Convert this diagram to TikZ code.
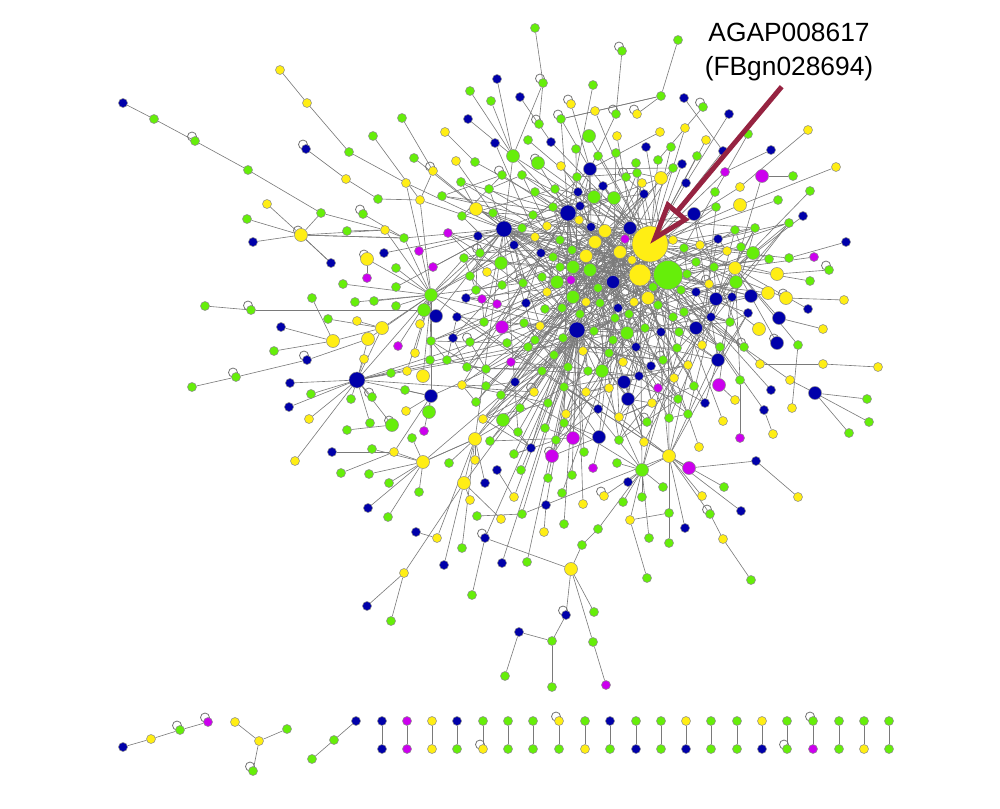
\documentclass[tikz,border=0pt]{standalone}
\usepackage{fontspec}
\setmainfont{Liberation Sans}
\usepackage{tikz}
\usetikzlibrary{arrows.meta, calc}

\definecolor{ngreen}{RGB}{102,238,10}
\definecolor{nyellow}{RGB}{255,238,20}
\definecolor{nblue}{RGB}{0,0,170}
\definecolor{nmag}{RGB}{204,0,238}
\definecolor{arrowred}{RGB}{150,35,65}

\pgfdeclarelayer{bg}
\pgfsetlayers{bg,main}

\tikzset{
  nd/.style={circle, draw=black!45, line width=0.3pt, inner sep=0pt},
  gs/.style={nd, fill=ngreen, minimum size=0.18cm},
  gm/.style={nd, fill=ngreen, minimum size=0.26cm},
  gh/.style={nd, fill=ngreen, minimum size=0.58cm},
  ys/.style={nd, fill=nyellow, minimum size=0.18cm},
  ym/.style={nd, fill=nyellow, minimum size=0.26cm},
  yb/.style={nd, fill=nyellow, minimum size=0.44cm},
  yh/.style={nd, fill=nyellow, minimum size=0.72cm},
  bs/.style={nd, fill=nblue, minimum size=0.18cm},
  bm/.style={nd, fill=nblue, minimum size=0.26cm},
  bb/.style={nd, fill=nblue, minimum size=0.32cm},
  ms/.style={nd, fill=nmag, minimum size=0.18cm},
  mm/.style={nd, fill=nmag, minimum size=0.26cm},
  link/.style={draw=black!52, line width=0.35pt},
  selfloop/.style={draw=black!55, line width=0.45pt},
  callout/.style={font=\fontsize{15pt}{19pt}\selectfont, inner sep=0pt, anchor=base}
}

% big nodes of the main component
\def\hublist{h1/650/244/yh/h2, h2/668/275/gh/h3, h3/640/275/yb/h1, h4/568/213/bb/h1,
  h5/504/229/bb/h4, h6/630/228/bm/h1, h7/605/231/ym/h1, h8/577/330/bb/h3,
  h9/586/256/ym/h1, h10/590/270/gm/h1, h11/620/252/ym/h2, h12/613/282/bm/h1,
  h13/669/456/ym/h2, h14/735/268/ym/h1, h15/357/380/bb/h16, h16/431/295/gm/h5,
  h17/590/169/bm/h1, h18/475/439/ym/h8, h19/642/470/gm/h3, h20/648/298/ym/h2,
  h21/627/333/gm/h1, h22/571/569/ym/p95, h23/301/235/ym/m3, h24/423/462/ym/h18,
  h25/431/396/bm/h16, h26/382/328/ym/h16}

% outer nodes with the node they hang from
\def\outlist{m1/406/183/ys/h5, m2/420/200/ys/h5, m3/404/238/gs/h5, m4/385/230/ys/m3,
  m5/333/341/ym/h26, m6/424/310/gm/h5, m7/368/339/ym/h16, m8/394/452/ys/h25,
  m9/392/425/gm/h15, m10/437/538/ys/h18, m11/464/483/ym/h18, m12/522/514/gs/h8,
  m20/740/380/gs/h14,
  p1/123/103/bs/p2, p2/154/119/gs/p3, p3/195/141/gs/p4, p4/248/170/gs/p5,
  p5/321/213/gs/h23, p6/280/70/ys/p7, p7/307/103/ys/p8, p8/349/152/gs/m1,
  p9/306/149/bs/p10, p10/346/179/ys/p11, p11/378/199/gs/m2, p12/373/136/gs/m2,
  p13/267/204/ys/h23, p14/247/219/gs/h23, p15/253/242/bs/h23, p16/363/214/gs/m3,
  p17/347/231/gs/m4, p18/331/263/bs/h23, p19/384/253/bs/h5, p20/367/259/ym/h16,
  p21/367/278/ms/p20, p22/343/284/gs/h16, p23/396/287/gs/h5, p24/312/298/gs/m5,
  p25/205/306/gs/p26, p26/251/310/gs/m6, p27/355/302/gs/h16, p28/374/301/gs/h16,
  p29/396/306/gs/h16, p30/328/319/gs/h26, p31/357/321/ys/h26, p32/281/327/bs/m5,
  p33/274/351/gs/m5, p34/307/360/bs/m7, p35/364/359/ys/h15, p36/236/377/gs/p34,
  p37/192/387/gs/p36, p38/290/383/bs/h15, p39/311/394/gs/h15, p40/289/407/bs/h15,
  p41/309/419/ys/h15, p42/295/461/ys/h15, p43/332/452/bs/m8, p44/341/473/gs/m8,
  p45/347/430/gs/m9, p46/370/423/gs/h15, p47/372/449/gs/h24, p48/369/474/gs/h24,
  p49/389/483/gs/h24, p50/419/492/gs/h24, p51/368/508/bs/h24, p52/388/517/gs/h24,
  p53/416/532/bs/m10, p54/404/573/ys/m11, p55/367/606/bs/p54, p56/391/621/gs/p54,
  p57/351/399/gs/h15, p58/372/397/gs/h15, p59/391/373/gs/h15, p60/407/371/ys/h16,
  p61/423/376/ym/h16, p62/405/390/gs/h25, p63/406/411/ys/h25, p64/429/412/gm/h25,
  p65/424/431/ms/h25, p66/412/438/gs/h24, p67/420/324/ys/h16, p68/398/346/ms/h16,
  p69/415/353/ys/h16, p70/430/360/gs/h16, p71/436/316/bm/h5, p72/419/251/ms/h5,
  p73/433/267/ms/h5, p74/396/268/gs/h16,
  p80/449/463/gs/h18, p81/475/460/ys/h18, p82/470/500/ys/m11, p83/477/516/gs/m12,
  p84/501/519/ys/m11, p85/485/483/bs/h18, p86/497/470/bs/p88, p87/521/470/gs/h8,
  p88/514/497/ys/h8, p89/548/478/gs/h8, p90/572/475/gs/h8, p91/546/505/bs/h8,
  p92/562/493/gs/h3, p93/564/524/gs/h8, p94/544/532/ys/p91, p95/485/538/bs/h8,
  p96/462/548/gs/h18, p97/444/565/bs/m11, p98/502/563/bs/h8, p99/527/562/gs/h8,
  p100/472/595/gs/p95, p101/582/545/gs/p102, p102/598/529/gs/h19, p103/604/496/ys/h19,
  p104/583/504/ys/h8, p105/593/468/ms/h3, p106/584/452/gs/h8, p107/566/615/bs/h22,
  p108/594/612/gs/h22, p109/552/641/gs/p107, p110/519/632/bs/p109, p111/505/676/gs/p110,
  p112/552/687/gs/p109, p113/593/642/gs/h22, p114/606/685/ms/p113, p115/628/482/bs/h19,
  p116/623/502/gs/h19, p117/630/520/ys/h19, p118/647/578/gs/p117, p119/669/513/gs/p117,
  p120/642/497/gs/h19, p121/663/487/gs/h19, p122/649/538/gs/h19, p123/669/543/gs/h13,
  p124/685/528/bs/h13, p125/702/496/ys/h13, p126/710/514/gs/h13, p127/723/539/ys/p126,
  p128/751/580/gs/p127, p129/741/511/bs/h13, p130/689/468/mm/h13, p131/756/461/bs/p130,
  p132/798/497/ys/p131, p133/724/487/gs/h13, p134/617/463/gs/h19,
  p140/740/438/ms/m20, p141/773/434/ys/p142, p142/764/410/bs/h2, p143/792/408/ys/p144,
  p144/798/345/gs/h14, p145/815/393/bm/p146, p146/790/380/ys/h3, p147/867/399/gs/p145,
  p148/869/422/gs/p145, p149/849/433/gs/p145, p150/878/367/ys/p151, p151/823/364/ys/p152,
  p152/760/364/ys/h2, p153/823/329/ys/p154, p154/779/318/bm/h14, p155/844/300/ys/p156,
  p156/786/298/ym/h1, p157/808/309/bs/h14, p158/810/281/gs/h14, p159/829/270/gs/p160,
  p160/777/274/ym/h1, p161/814/257/ms/h14, p162/846/242/bs/p163, p163/789/258/gs/h1,
  p164/777/343/bm/h14, p165/759/329/ym/h1, p166/771/390/bs/h2, p167/735/400/ys/p168,
  p168/719/385/mm/h14, p169/723/421/ys/h2, p170/699/447/ys/h3,
  p180/678/40/gs/p181, p181/661/96/gs/p182, p182/561/119/gs/h17, p183/622/51/gs/p184,
  p184/616/114/gs/h17, p185/684/98/bs/p186, p186/723/151/bs/h1, p187/703/107/gs/p188,
  p188/658/160/gs/h1, p189/729/114/bs/p190, p190/686/183/bs/h1, p191/808/130/ys/p192,
  p192/740/187/ys/h1, p193/748/134/gs/p194, p194/715/192/gs/h2, p195/836/167/ys/p196,
  p196/740/205/ym/h1, p197/771/150/bs/p198, p198/725/172/ms/h1, p199/762/176/mm/h14,
  p200/793/176/gs/p199, p201/810/191/gs/h14, p202/778/200/gs/h1, p203/803/216/bs/h14,
  p204/685/128/ys/h1, p205/660/132/ys/h17, p206/706/140/ys/h1, p207/637/114/ys/p181,
  p208/595/111/ys/h1, p209/571/104/ys/h17, p210/593/85/gs/h4, p211/589/136/gm/h1,
  p212/617/136/ys/h3, p213/646/147/bs/h2, p214/671/147/gs/h3, p215/697/156/gs/h1,
  p216/682/164/bs/h3, p217/636/163/gs/h1,
  p220/535/28/gs/p221, p221/543/83/gs/p222, p222/513/156/gm/h1, p223/497/79/bs/p222,
  p224/470/91/gs/p222, p225/491/101/gs/p222, p226/520/97/bs/p227, p227/551/142/bs/h1,
  p228/468/119/bs/p222, p229/402/118/gs/p230, p230/433/171/ys/h5, p231/445/132/ys/p232,
  p232/475/162/gs/h4, p233/456/161/ys/h5, p234/414/158/gs/h5, p235/495/143/bs/h8,
  p236/528/140/gs/h1, p237/539/124/gs/p221, p238/576/149/gs/h8, p239/598/156/gs/h2,
  p240/616/153/gs/h12, p241/538/163/gm/h1, p242/561/166/ys/h3}

\begin{document}
\begin{tikzpicture}[x=0.02cm, y=-0.02cm]
\useasboundingbox (0,0) rectangle (1000,808);
\pgfmathsetseed{4711}

% dense core
\foreach \x/\y/\s [count=\i] in {
  461/182/gs, 442/196/gs, 489/189/gs, 522/175/gs, 502/175/gs, 476/209/ym, 462/216/gs,
  493/213/gs, 533/215/gs, 547/226/ys, 522/228/gs, 535/192/gs, 555/189/gs, 578/192/bs,
  580/206/bs, 579/220/ys, 603/186/bs, 594/197/gm, 614/198/gm, 591/227/bs, 595/242/ym,
  625/239/ms, 560/267/gs, 573/267/gm, 598/288/gs, 573/297/gm, 586/302/ys, 600/303/gs,
  618/308/bs, 629/314/gs, 634/302/ys, 658/305/gs, 673/317/gs, 673/240/ys, 632/260/ys,
  653/287/gs, 571/280/ms, 557/282/gm, 572/250/gs, 560/240/gs, 553/257/gs, 542/277/gs,
  547/292/ys, 545/309/gs, 562/308/gs, 580/314/gs, 594/331/gs, 636/347/bs, 613/340/gs,
  609/353/gs, 615/318/gs, 663/360/gs, 661/332/bs, 623/362/ys, 651/366/bs, 645/328/gs,
  588/371/gs, 583/351/ys, 563/338/gs, 554/355/gs, 535/340/gs, 540/326/ys, 524/323/gs,
  502/327/mm, 526/303/bs, 523/283/gs, 514/245/bs, 541/253/bs, 535/237/ys, 501/263/gm,
  480/253/gs, 464/258/gs, 478/236/bs, 448/233/ms, 487/272/ys, 502/285/gs, 470/276/gs,
  476/290/gs, 466/298/bs, 482/299/ms, 497/304/ms, 457/317/bs, 484/322/gs, 453/338/bs,
  470/342/gs, 507/343/gs, 431/341/gs, 447/360/gs, 467/367/gs, 486/369/gs, 511/362/ms,
  528/347/gs, 568/367/gs, 602/371/gm, 639/376/bs, 677/348/gs, 553/207/gs, 577/177/gs,
  626/177/gs, 637/173/gs, 642/183/ys, 644/194/bs, 661/178/ym, 673/168/gs,
  515/382/bs, 486/386/gs, 476/402/gs, 462/385/ys, 501/395/gs, 534/392/ys, 542/371/gs,
  548/403/gs, 520/408/gs, 503/420/gm, 483/419/ys, 545/428/gs, 518/432/gs, 490/441/gs,
  531/448/bs, 514/454/gs, 556/440/gs, 573/438/mm, 552/456/mm, 564/423/gs, 566/414/ys,
  598/409/bs, 599/437/bm, 609/388/ys, 586/392/ys, 564/387/gs, 624/382/bm, 628/399/bm,
  658/388/ms, 674/378/ys, 688/365/ys, 694/386/gs, 678/399/gs, 652/403/ys, 669/418/gs,
  647/422/gs, 688/414/gs, 619/417/ys, 619/440/gs, 644/442/ys, 705/403/bs,
  755/228/gs, 735/230/gs, 789/223/gs, 718/239/bs, 727/251/ys, 700/245/ys, 684/248/gs,
  741/247/gs, 753/253/gm, 769/259/gs, 696/262/gs, 714/267/gs, 687/274/gs, 681/290/gs,
  709/284/ys, 736/282/gm, 696/292/bs, 716/299/bm, 732/297/bs, 751/296/bm, 768/293/ym,
  684/312/gs, 711/317/bs, 730/322/gs, 748/313/bs, 696/328/bm, 679/332/gs, 702/345/ys,
  720/347/gs, 744/347/gs, 718/360/bm, 716/207/gs, 694/214/bm}
  {\node[\s] (c\i) at (\x,\y) {}; \xdef\ncore{\i}}

% outer nodes and big nodes
\foreach \n/\x/\y/\s/\p in \outlist
  \node[\s] (\n) at (\x,\y) {};
\foreach \n/\x/\y/\s/\p in \hublist
  \node[\s] (\n) at (\x,\y) {};

% small components along the bottom
\foreach \n/\x/\y/\s in {r1/123/747/bs, r2/151/739/ys, r3/180/730/gs, r4/208/722/ms,
  r5/235/722/ys, r6/259/741/ys, r7/287/729/gs, r8/253/771/gs,
  r9/312/759/gs, r10/334/740/gs, r11/356/721/bs}
  \node[\s] (\n) at (\x,\y) {};
\foreach \x/\t/\b [count=\k] in {382/bs/bs, 407/ms/ms, 432/ys/ys, 457/bs/gs, 483/gs/ys,
  508/gs/gs, 533/gs/gs, 559/ys/gs, 585/gs/ys, 610/bs/gs, 636/gs/bs, 661/gs/gs,
  686/ys/bs, 711/gs/gs, 737/gs/gs, 762/ys/bs, 787/gs/gs, 813/gs/ms, 839/gs/gs,
  864/gs/ys, 889/gs/gs}
{
  \node[\t] (u\k) at (\x,721) {};
  \node[\b] (w\k) at (\x,749) {};
}

\begin{pgfonlayer}{bg}
% core links
\foreach \i in {1,...,\ncore}{
  \pgfmathtruncatemacro\r{random(1,12)}
  \pgfmathtruncatemacro\q{random(1,34)}
  \pgfmathtruncatemacro\j{min(\i+random(1,6),\ncore)}
  \draw[link] (c\i) -- (h\r) (c\i) -- (c\j);
  \ifnum\q<22 \draw[link] (c\i) -- (h\q); \fi
}
\foreach \n/\x/\y/\s/\p in \outlist
  \draw[link] (\n) -- (\p);
\foreach \n/\x/\y/\s/\p in \hublist
  \draw[link] (\n) -- (\p);
\foreach \a/\b in {p5/m4, h23/m3, h23/p18, m3/h16, m4/h16, m6/h16, m7/h15, m8/h24,
  m11/h8, m12/h13, m20/h2, h22/p101, h13/h19, h18/h24, h25/h15, h26/h15, h23/m4,
  p182/h4, p222/h4, p222/h5, p241/h4, p230/m2, h16/h8, h24/h8, h25/h8, h18/h5,
  h19/h8, h13/h1, h14/h2, h20/h1, h21/h8, h17/h4, p181/p182, m1/h16, m2/h16}
  \draw[link] (\a) -- (\b);
\foreach \a/\b in {r1/r2, r2/r3, r3/r4, r5/r6, r6/r7, r6/r8, r9/r10, r10/r11}
  \draw[link] (\a) -- (\b);
\foreach \k in {1,...,21}
  \draw[link] (u\k) -- (w\k);
% self loops
\foreach \n in {p3, p9, p16, p20, p26, p34, p36, m9, p58, p95, p103, p107, p126,
  p156, p159, p164, p183, p184, p187, p207, p209, p182, p221, p237, p241, p230, h23,
  c5, c18, c27, c40, c52, c66, c71, c85, c99, c110, c123, c140, c160, c175,
  r3, r4, r8, w5, u8, w17, u18}
  \draw[selfloop] (\n.center) ++(-3,-4.5) circle[radius=4.5];
\end{pgfonlayer}

% callout
\node[callout] (lbla) at (789,41.7) {AGAP008617};
\node[callout] (lblb) at (789,75.7) {(FBgn028694)};
\coordinate (atail) at (781.7,86.7);
\draw[arrowred, line width=2.8pt, -{Triangle[open, length=25pt, width=16pt]}]
  (atail) -- (h1.center);
\end{tikzpicture}
\end{document}
